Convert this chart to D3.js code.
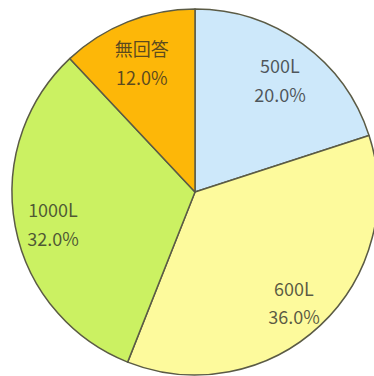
<!DOCTYPE html>
<html>
<head>
<meta charset="utf-8">
<script src="https://cdn.jsdelivr.net/npm/d3@7"></script>
<style>
  html, body { margin: 0; padding: 0; background: #fff; }
  svg { display: block; }
</style>
</head>
<body>
<svg id="chart" width="374" height="376"></svg>
<script>
// Tank capacity answers, clockwise from 12 o'clock
const categories = ["500L", "600L", "1000L", "無回答"];
const shares = [20.0, 36.0, 32.0, 12.0];
const sliceColors = ["#cde8fa", "#fdfa9c", "#cbf162", "#fdb708"];

const width = 374, height = 376;
const cx = 195, cy = 192, radius = 183;

const svg = d3.select("#chart");
const g = svg.append("g").attr("transform", `translate(${cx},${cy})`);

const pie = d3.pie().sort(null).value(d => d.value);
const data = categories.map((c, i) => ({ name: c, value: shares[i], color: sliceColors[i] }));
const arcs = pie(data);

const arc = d3.arc().innerRadius(0).outerRadius(radius);
const labelArc = d3.arc().innerRadius(radius * 0.79).outerRadius(radius * 0.79);

g.selectAll("path.slice")
  .data(arcs)
  .join("path")
  .attr("class", "slice")
  .attr("d", arc)
  .attr("fill", d => d.data.color)
  .attr("stroke", "#5b5b45")
  .attr("stroke-width", 1.5)
  .attr("stroke-linejoin", "round");

const labels = g.selectAll("text.lbl")
  .data(arcs)
  .join("text")
  .attr("class", "lbl")
  .attr("transform", d => `translate(${labelArc.centroid(d)})`)
  .attr("text-anchor", "middle")
  .attr("font-family", "'Noto Sans CJK JP', 'Noto Sans', sans-serif")
  .attr("font-size", 18)
  .attr("fill", "#262626")
  .attr("fill-opacity", 0.75);

labels.append("tspan")
  .attr("x", 0)
  .attr("dy", "-0.1em")
  .text(d => d.data.name);

labels.append("tspan")
  .attr("x", 0)
  .attr("dy", "1.6em")
  .text(d => d.data.value.toFixed(1) + "%");
</script>
</body>
</html>
